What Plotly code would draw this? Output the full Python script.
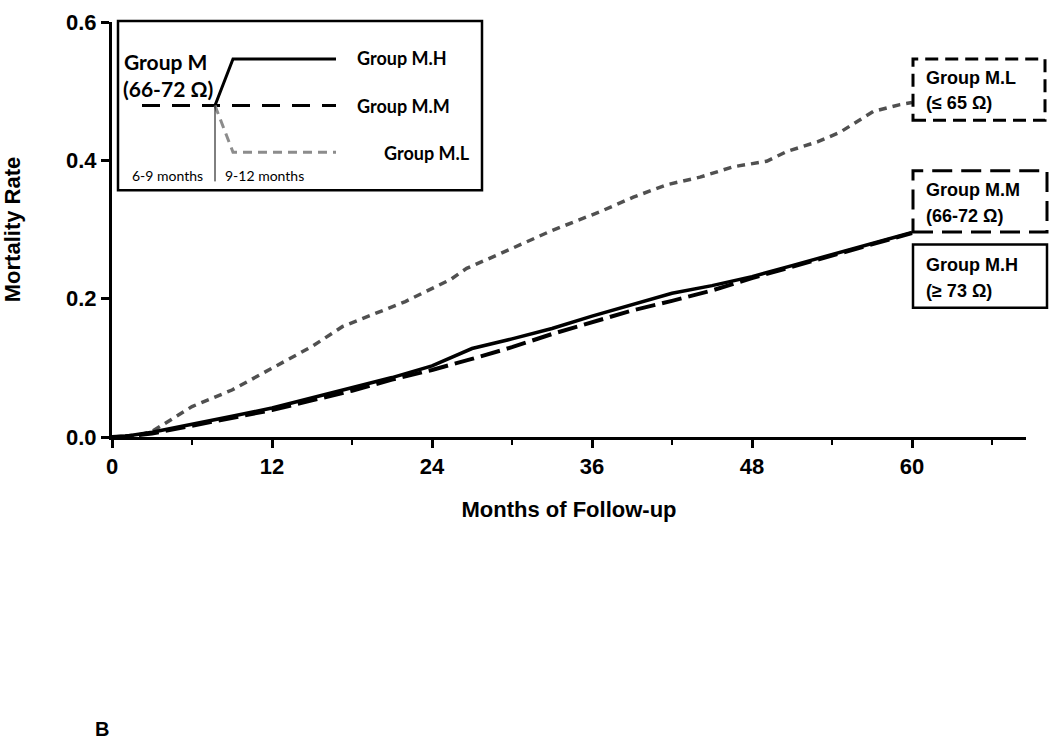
import plotly.graph_objects as go

# ---------------- data ----------------
months_h = [0, 1, 3, 6, 9, 12, 15, 18, 21, 24, 27, 30, 33, 36, 39, 42, 45, 48, 51, 54, 57, 60]
group_mh = [0, 0.001, 0.007, 0.018, 0.030, 0.042, 0.057, 0.071, 0.086, 0.103, 0.128, 0.142, 0.157,
            0.175, 0.192, 0.208, 0.219, 0.232, 0.248, 0.264, 0.280, 0.296]

months_m = [0, 1, 3, 6, 9, 12, 15, 18, 21, 24, 27, 30, 33, 36, 39, 42, 45, 48, 51, 54, 57, 60]
group_mm = [0, 0.001, 0.005, 0.016, 0.027, 0.039, 0.053, 0.067, 0.083, 0.097, 0.113, 0.130, 0.149,
            0.166, 0.183, 0.197, 0.212, 0.230, 0.246, 0.262, 0.279, 0.295]

months_l = [0, 1.5, 3, 6, 9, 12, 15, 17.3, 20.3, 22, 25.4, 26.6, 29.9, 32.9, 36.6, 39.1, 41.6,
            44.1, 46.6, 49.1, 50.6, 52.9, 54.6, 56.1, 57.1, 59.1, 60]
group_ml = [0, 0.0, 0.008, 0.044, 0.068, 0.100, 0.131, 0.160, 0.183, 0.196, 0.228, 0.244, 0.272,
            0.298, 0.326, 0.347, 0.365, 0.376, 0.391, 0.399, 0.413, 0.427, 0.441, 0.459, 0.471,
            0.481, 0.484]

x_ticks = [0, 12, 24, 36, 48, 60]
y_ticks = [0.0, 0.2, 0.4, 0.6]
y_tick_text = ["0.0", "0.2", "0.4", "0.6"]

# ---------------- layout geometry (pixels) ----------------
W, H = 1050, 748
L, R, T, B = 112, 1026, 10, 437


def px(x):
    return (x - L) / (R - L)


def py(y):
    return (B - y) / (B - T)


ARIAL = "Liberation Sans, Arial, sans-serif"
CAL = "Lato, Liberation Sans, sans-serif"

fig = go.Figure()
fig.add_trace(go.Scatter(x=months_l, y=group_ml, mode="lines", name="Group M.L",
                         line=dict(color="#505050", width=3.5, dash="8px,6px")))
fig.add_trace(go.Scatter(x=months_m, y=group_mm, mode="lines", name="Group M.M",
                         line=dict(color="black", width=4, dash="20px,7px")))
fig.add_trace(go.Scatter(x=months_h, y=group_mh, mode="lines", name="Group M.H",
                         line=dict(color="black", width=3.5)))

shapes = []
ann = []

# inset box
shapes.append(dict(type="rect", xref="paper", yref="paper", x0=px(118), x1=px(482), y0=py(183), y1=py(9),
                   line=dict(color="black", width=2.5), fillcolor="white", layer="above"))
# inset lines
shapes.append(dict(type="line", xref="paper", yref="paper", x0=px(142), y0=py(96), x1=px(336), y1=py(96),
                   line=dict(color="black", width=3, dash="18px,12px")))
shapes.append(dict(type="path", xref="paper", yref="paper",
                   path=f"M {px(215)},{py(96)} L {px(233)},{py(48)} L {px(336)},{py(48)}",
                   line=dict(color="black", width=3)))
shapes.append(dict(type="path", xref="paper", yref="paper",
                   path=f"M {px(215)},{py(96)} L {px(233)},{py(144)} L {px(336)},{py(144)}",
                   line=dict(color="#8c8c8c", width=3, dash="9px,6px")))
shapes.append(dict(type="line", xref="paper", yref="paper", x0=px(215), y0=py(96), x1=px(215), y1=py(174),
                   line=dict(color="black", width=1)))

def text(x, y, s, size, font=ARIAL, bold=True, anchor="left"):
    ann.append(dict(x=px(x), y=py(y), xref="paper", yref="paper", text=s, showarrow=False,
                    xanchor=anchor, yanchor="middle",
                    font=dict(family=font, size=size, color="black", weight="bold" if bold else "normal")))

text(122, 51, "Group M", 21, CAL)
text(121, 78, "(66-72 Ω)", 21, CAL)
text(355, 47, "Group M.H", 18, CAL)
text(355, 96, "Group M.M", 18, CAL)
text(382, 145, "Group M.L", 18, CAL)
text(167, 168, "6-9 months", 14, CAL, bold=False, anchor="center")
text(264, 168, "9-12 months", 14, CAL, bold=False, anchor="center")

# right-side labelled boxes
shapes.append(dict(type="rect", xref="paper", yref="paper", x0=px(913), x1=px(1045), y0=py(111), y1=py(48),
                   line=dict(color="black", width=3, dash="13px,7px")))
shapes.append(dict(type="rect", xref="paper", yref="paper", x0=px(913), x1=px(1047), y0=py(226), y1=py(163),
                   line=dict(color="black", width=3, dash="20px,9px")))
shapes.append(dict(type="rect", xref="paper", yref="paper", x0=px(913), x1=px(1047), y0=py(304), y1=py(239),
                   line=dict(color="black", width=2.5)))
text(924, 68, "Group M.L", 18)
text(924, 93, "(≤ 65 Ω)", 18)
text(924, 183, "Group M.M", 18)
text(924, 210, "(66-72 Ω)", 18)
text(924, 260, "Group M.H", 18)
text(924, 287, "(≥ 73 Ω)", 18)

# panel letter
text(93, 737, "B", 20)

fig.update_layout(
    width=W, height=H,
    margin=dict(l=L, r=W - R, t=T, b=H - B),
    paper_bgcolor="white", plot_bgcolor="white",
    showlegend=False,
    shapes=shapes, annotations=ann,
    font=dict(family=ARIAL, color="black"),
    xaxis=dict(range=[0, 68.55], tickvals=x_ticks, showline=True, linecolor="black", linewidth=3,
               ticks="outside", ticklen=8, tickwidth=2.5, tickcolor="black", showgrid=False, zeroline=False,
               tickfont=dict(family=ARIAL, size=22, weight="bold"), ticklabeloverflow="allow",
               minor=dict(dtick=6, tick0=0, ticks="outside", ticklen=5, tickwidth=2, tickcolor="black", showgrid=False),
               title=dict(text="Months of Follow-up", font=dict(family=ARIAL, size=22, weight="bold"), standoff=24)),
    yaxis=dict(range=[0, 0.6005], tickvals=y_ticks, ticktext=y_tick_text, showline=True, linecolor="black",
               linewidth=3, ticks="outside", ticklen=8, tickwidth=2.5, tickcolor="black", showgrid=False,
               zeroline=False, tickfont=dict(family=ARIAL, size=22, weight="bold"), ticklabeloverflow="allow",
               title=dict(text="Mortality Rate", font=dict(family=ARIAL, size=22, weight="bold"), standoff=40)),
)

fig.write_html("out.html", config={"displayModeBar": False},
               post_script="document.body.style.margin='0';document.body.style.overflow='hidden';")
